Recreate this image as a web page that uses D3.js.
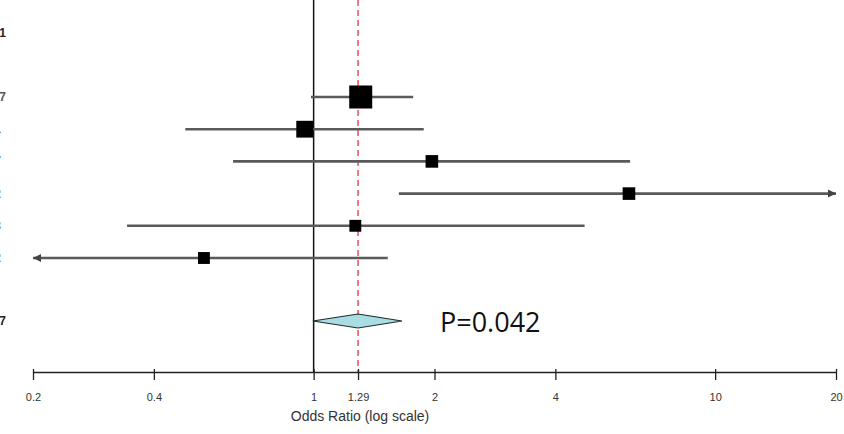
<!DOCTYPE html>
<html>
<head>
<meta charset="utf-8">
<script src="https://cdn.jsdelivr.net/npm/d3@7"></script>
<style>
  body { margin: 0; background: #fff; }
</style>
</head>
<body>
<div id="chart"></div>
<script>
var w = 844;
var h = 434;

// study rows
var studyLabels = ["2017", "2011", "2017", "2012", "2013", "2012"];
var oddsRatio = [1.31, 0.95, 1.97, 6.1, 1.27, 0.533];
var ciLower = [0.985, 0.479, 0.63, 1.63, 0.343, 0.15];
var ciUpper = [1.77, 1.88, 6.14, 30, 4.73, 1.53];
var weights = [30, 16, 9, 9, 8, 8];

// pooled estimate
var pooled = { label: "0.007", or: 1.29, lower: 0.995, upper: 1.66 };
var pValueText = "P=0.042";
var headerLabel = "2021";

var tickValues = [0.2, 0.4, 1, 1.29, 2, 4, 10, 20];

var svg = d3.select("#chart").append("svg")
  .attr("width", w)
  .attr("height", h);

var x = d3.scaleLog().domain([0.2, 20]).range([33, 836]);
var y = d3.scaleLinear().domain([0, 5]).range([97, 258]);
var size = d3.scaleSqrt().domain([0, 30]).range([0, 23]);

var axisY = 372;
var pooledY = 321;

// reference line at 1
svg.append("line")
  .attr("x1", x(1)).attr("x2", x(1))
  .attr("y1", 0).attr("y2", axisY)
  .attr("stroke", "#111").attr("stroke-width", 1.5);

// pooled estimate dashed line
svg.append("line")
  .attr("x1", x(pooled.or)).attr("x2", x(pooled.or))
  .attr("y1", 0).attr("y2", axisY)
  .attr("stroke", "#e3343c").attr("stroke-width", 1.3)
  .attr("stroke-dasharray", "6,4");

// CI lines, clipped to axis range with arrows
var lo = x.domain()[0], hi = x.domain()[1];
var rows = studyLabels.map(function (d, i) {
  return { label: d, or: oddsRatio[i], lower: ciLower[i], upper: ciUpper[i], weight: weights[i], i: i };
});

svg.selectAll(".ci")
  .data(rows)
  .enter()
  .append("line")
  .attr("x1", (d) => x(Math.max(d.lower, lo)))
  .attr("x2", (d) => x(Math.min(d.upper, hi)))
  .attr("y1", (d) => y(d.i))
  .attr("y2", (d) => y(d.i))
  .attr("stroke", "#5a5a5a")
  .attr("stroke-width", 2.6);

// arrow heads where CI runs off the scale
rows.forEach(function (d) {
  if (d.upper > hi) {
    var px = x(hi), py = y(d.i);
    svg.append("path")
      .attr("d", "M" + px + "," + py + "l-8,-4l0,8z")
      .attr("fill", "#444");
  }
  if (d.lower < lo) {
    var px2 = x(lo), py2 = y(d.i);
    svg.append("path")
      .attr("d", "M" + px2 + "," + py2 + "l8,-4l0,8z")
      .attr("fill", "#444");
  }
});

// squares
svg.selectAll(".sq")
  .data(rows)
  .enter()
  .append("rect")
  .attr("x", (d) => x(d.or) - size(d.weight) / 2)
  .attr("y", (d) => y(d.i) - size(d.weight) / 2)
  .attr("width", (d) => size(d.weight))
  .attr("height", (d) => size(d.weight))
  .attr("fill", "#000");

// diamond
svg.append("path")
  .attr("d",
    "M" + x(pooled.lower) + "," + pooledY +
    "L" + x(pooled.or) + "," + (pooledY - 7) +
    "L" + x(pooled.upper) + "," + pooledY +
    "L" + x(pooled.or) + "," + (pooledY + 7) + "Z")
  .attr("fill", "#a9dce3")
  .attr("stroke", "#1d2b2e")
  .attr("stroke-width", 1.2);

svg.append("text")
  .text(pValueText)
  .attr("x", 440)
  .attr("y", 332)
  .attr("font-family", "Open Sans, sans-serif")
  .attr("font-size", 27)
  .attr("fill", "#111");

// left labels (cut off at the left edge, as in the source figure)
var labelFont = "Liberation Sans, Arial, sans-serif";
svg.append("text")
  .text(headerLabel)
  .attr("x", 6).attr("y", 37)
  .attr("text-anchor", "end")
  .attr("font-family", labelFont).attr("font-weight", "bold")
  .attr("font-size", 12).attr("fill", "#222");

svg.selectAll(".lab")
  .data(rows)
  .enter()
  .append("text")
  .text((d) => d.label)
  .attr("x", (d) => (d.i === 0 ? 6 : 1))
  .attr("y", (d) => y(d.i) + 4)
  .attr("text-anchor", "end")
  .attr("font-family", labelFont).attr("font-weight", "bold")
  .attr("font-size", 12).attr("fill", "#555");

svg.append("text")
  .text(pooled.label)
  .attr("x", 6).attr("y", pooledY + 4)
  .attr("text-anchor", "end")
  .attr("font-family", labelFont).attr("font-weight", "bold")
  .attr("font-size", 12).attr("fill", "#222");

// axis
var axis = d3.axisBottom(x)
  .tickValues(tickValues)
  .tickFormat((d) => String(d))
  .tickSize(8)
  .tickSizeOuter(0);

var gx = svg.append("g")
  .attr("transform", "translate(0," + axisY + ")")
  .call(axis);

gx.select(".domain").attr("stroke", "#222").attr("stroke-width", 1.5);
gx.selectAll(".tick line").attr("stroke", "#222").attr("stroke-width", 1.3)
  .attr("y1", -3);
gx.selectAll(".tick text")
  .attr("y", 21)
  .attr("font-family", "Liberation Sans Narrow, Liberation Sans, sans-serif")
  .attr("font-size", 11)
  .attr("fill", "#333");

svg.append("text")
  .text("Odds Ratio (log scale)")
  .attr("x", x(1.29) + 2)
  .attr("y", 421)
  .attr("text-anchor", "middle")
  .attr("font-family", "Liberation Sans, Arial, sans-serif")
  .attr("font-size", 14)
  .attr("fill", "#333");
</script>
</body>
</html>
